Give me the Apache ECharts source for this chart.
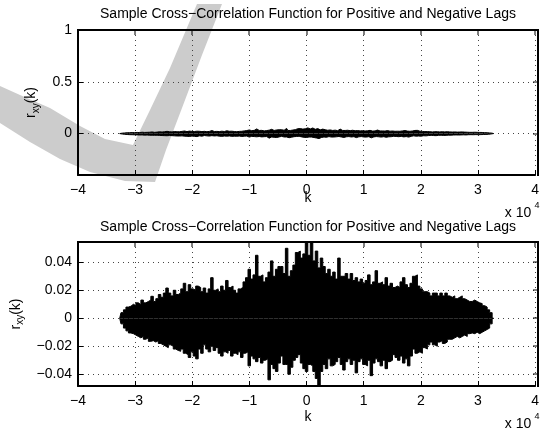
<!DOCTYPE html>
<html><head><meta charset="utf-8">
<script src="https://cdn.jsdelivr.net/npm/echarts@6/dist/echarts.min.js"></script>
<style>html,body{margin:0;padding:0;background:#fff}#c{width:542px;height:430px}</style>
</head><body><div id="c"></div>
<script>
// lag grid (k) of the sampled envelope
const LAG_START = -32700;
const LAG_STEP = 436;
// upper envelope of r_xy(k)
const upper = [0,0.004,0.006,0.008,0.0086,0.010,0.009,0.011,0.0097,0.013,
0.011,0.012,0.013,0.0157,0.012,0.014,0.017,0.015,0.018,0.0216,
0.018,0.016,0.02,0.017,0.018,0.021,0.025,0.019,0.024,0.021,
0.02,0.023,0.022,0.019,0.0216,0.018,0.021,0.029,0.02,0.021,
0.019,0.023,0.02,0.027,0.022,0.023,0.02,0.018,0.021,0.022,
0.026,0.029,0.035,0.028,0.031,0.045,0.03,0.031,0.026,0.029,
0.033,0.041,0.03,0.035,0.037,0.037,0.032,0.05,0.03,0.034,
0.038,0.047,0.048,0.043,0.046,0.055,0.045,0.054,0.041,0.048,
0.036,0.043,0.037,0.032,0.035,0.03,0.033,0.028,0.043,0.03,
0.03,0.032,0.028,0.032,0.027,0.029,0.026,0.028,0.025,0.027,
0.031,0.024,0.026,0.034,0.025,0.026,0.024,0.029,0.023,0.025,
0.022,0.023,0.022,0.026,0.029,0.024,0.022,0.025,0.03,0.031,
0.023,0.021,0.019,0.019,0.018,0.016,0.018,0.018,0.016,0.018,
0.016,0.018,0.016,0.015,0.016,0.014,0.015,0.016,0.014,0.013,
0.012,0.012,0.013,0.012,0.011,0.0105,0.009,0.008,0.006,0.004,0];
// lower envelope of r_xy(k)
const lower = [0,-0.004,-0.007,-0.009,-0.0105,-0.011,-0.012,-0.013,-0.014,-0.013,
-0.015,-0.014,-0.0165,-0.016,-0.017,-0.016,-0.018,-0.019,-0.02,-0.021,
-0.019,-0.02,-0.022,-0.023,-0.0236,-0.022,-0.025,-0.026,-0.028,-0.024,
-0.027,-0.029,-0.022,-0.025,-0.019,-0.022,-0.024,-0.02,-0.023,-0.021,
-0.025,-0.027,-0.024,-0.025,-0.023,-0.027,-0.025,-0.026,-0.024,-0.028,
-0.025,-0.024,-0.034,-0.027,-0.029,-0.031,-0.028,-0.032,-0.03,-0.029,
-0.044,-0.033,-0.036,-0.038,-0.032,-0.027,-0.033,-0.033,-0.04,-0.035,
-0.03,-0.028,-0.026,-0.032,-0.036,-0.038,-0.033,-0.034,-0.038,-0.043,
-0.048,-0.038,-0.033,-0.036,-0.029,-0.034,-0.033,-0.031,-0.028,-0.033,
-0.037,-0.031,-0.029,-0.033,-0.03,-0.039,-0.031,-0.029,-0.033,-0.034,
-0.03,-0.041,-0.032,-0.029,-0.031,-0.034,-0.03,-0.036,-0.031,-0.03,
-0.026,-0.028,-0.03,-0.027,-0.032,-0.029,-0.034,-0.027,-0.022,-0.025,
-0.024,-0.025,-0.021,-0.022,-0.019,-0.017,-0.019,-0.02,-0.017,-0.016,
-0.018,-0.017,-0.015,-0.015,-0.014,-0.013,-0.014,-0.013,-0.012,-0.013,
-0.011,-0.0105,-0.011,-0.01,-0.011,-0.01,-0.009,-0.008,-0.007,-0.004,0];
const xTickValues = [-40000,-30000,-20000,-10000,0,10000,20000,30000,40000];
const topYTicks = [0, 0.5, 1];
const botYTicks = [-0.04, -0.02, 0, 0.02, 0.04];
const titleText = 'Sample Cross\u2212Correlation Function for Positive and Negative Lags';
const xName = 'k';

const FONT = '"Liberation Sans", Arial, Helvetica, sans-serif';
const FS = 14;
const lags = upper.map((_, i) => LAG_START + i * LAG_STEP);
const upData = upper.map((v, i) => [lags[i], v]);
const loData = lower.map((v, i) => [lags[i], v]);
const minus = s => String(s).replace('-', '\u2212');

const grids = [
  {left: 78, top: 30, width: 460, height: 145},
  {left: 78, top: 242, width: 460, height: 144}
];
const yRanges = [[-0.4, 1], [-0.0484, 0.0545]];
const yTicks = [topYTicks, botYTicks];

const gridLine = {show: true, lineStyle: {type: [1, 4], color: '#444', width: 1}};
const xAxes = [], yAxes = [], series = [];
grids.forEach((g, gi) => {
  xAxes.push({gridIndex: gi, type: 'value', min: -40000, max: 40000, interval: 10000, position: 'bottom',
    axisLine: {show: true, onZero: false, lineStyle: {color: '#000', width: 2}},
    axisTick: {show: true, inside: true, length: 5, lineStyle: {color: '#000', width: 1}},
    axisLabel: {show: true, margin: 8, fontSize: FS, fontFamily: FONT, color: '#000',
      formatter: v => minus(v / 10000)},
    splitLine: gridLine});
  yAxes.push({gridIndex: gi, type: 'value', min: yRanges[gi][0], max: yRanges[gi][1], position: 'left',
    axisLine: {show: true, onZero: false, lineStyle: {color: '#000', width: 2}},
    axisTick: {show: true, inside: true, length: 5, customValues: yTicks[gi], lineStyle: {color: '#000', width: 1}},
    axisLabel: {show: true, margin: 6, fontSize: FS, fontFamily: FONT, color: '#000',
      customValues: yTicks[gi], formatter: v => minus(v)},
    splitLine: gridLine,
    name: '{a|r}{b|xy}{a|(k)}', nameLocation: 'middle', nameRotate: 90,
    nameGap: gi === 0 ? 35 : 50,
    nameTextStyle: {rich: {
      a: {fontSize: FS, fontFamily: FONT, color: '#000', lineHeight: 20},
      b: {fontSize: 10, fontFamily: FONT, color: '#000', lineHeight: 8, verticalAlign: 'bottom'}}}});
  const common = {type: 'line', xAxisIndex: gi, yAxisIndex: gi, showSymbol: false,
    symbol: 'none', sampling: 'none', animation: false, z: 3, step: 'middle',
    lineStyle: {color: '#000', width: 1}, areaStyle: {color: '#000', opacity: 1, origin: 0}};
  series.push(Object.assign({}, common, {data: upData}));
  series.push(Object.assign({}, common, {data: loData}));
});

const txt = (x, y, text, size) => ({type: 'text', x, y, z: 10, silent: true,
  style: {text, fontSize: size, fontFamily: FONT, fill: '#000', align: 'center', verticalAlign: 'middle'}});

const graphic = [
  {type: 'polygon', z: -1, silent: true,
    shape: {points: [[0,86],[20,95],[50,108],[80,126],[105,139],[133,145],[150,110],[170,68],[197,4],[222,4],
      [202,55],[182,108],[166,150],[155,182],[125,181],[90,172],[60,159],[30,142],[0,123]]},
    style: {fill: '#cccccc'}},
  txt(308, 14, titleText, FS),
  txt(308, 227, titleText, FS),
  txt(308, 198, xName, FS),
  txt(308, 417, xName, FS),
  txt(518, 213, 'x 10', FS),
  txt(537, 206, '4', 9),
  txt(518, 424, 'x 10', FS),
  txt(537, 417, '4', 9)
];
// box frame: top and right edges of each axes (2 px, like the left/bottom axis lines)
grids.forEach(g => {
  const L = g.left, T = g.top, R = g.left + g.width;
  graphic.push({type: 'rect', z: 100, silent: true, shape: {x: L - 1, y: T - 1, width: g.width + 2, height: 2},
    style: {fill: '#000'}});
  graphic.push({type: 'rect', z: 100, silent: true, shape: {x: R - 1, y: T - 1, width: 2, height: g.height + 2},
    style: {fill: '#000'}});
});

const chart = echarts.init(document.getElementById('c'), null, {renderer: 'canvas'});
chart.setOption({
  animation: false,
  backgroundColor: '#fff',
  grid: grids.map(g => Object.assign({show: false}, g)),
  xAxis: xAxes,
  yAxis: yAxes,
  series,
  graphic: graphic
});

// tick marks on the top and right sides, placed through the axes' own scales
const ticks = [];
grids.forEach((g, gi) => {
  const T = g.top, R = g.left + g.width;
  xTickValues.forEach(v => {
    const px = chart.convertToPixel({xAxisIndex: gi}, v);
    ticks.push({type: 'rect', z: 100, silent: true, shape: {x: Math.round(px) - 0.5, y: T, width: 1, height: 5},
      style: {fill: '#000'}});
  });
  yTicks[gi].forEach(v => {
    const py = chart.convertToPixel({yAxisIndex: gi}, v);
    ticks.push({type: 'rect', z: 100, silent: true, shape: {x: R - 5, y: Math.round(py) - 0.5, width: 5, height: 1},
      style: {fill: '#000'}});
  });
});
chart.setOption({graphic: graphic.concat(ticks)});
</script></body></html>
